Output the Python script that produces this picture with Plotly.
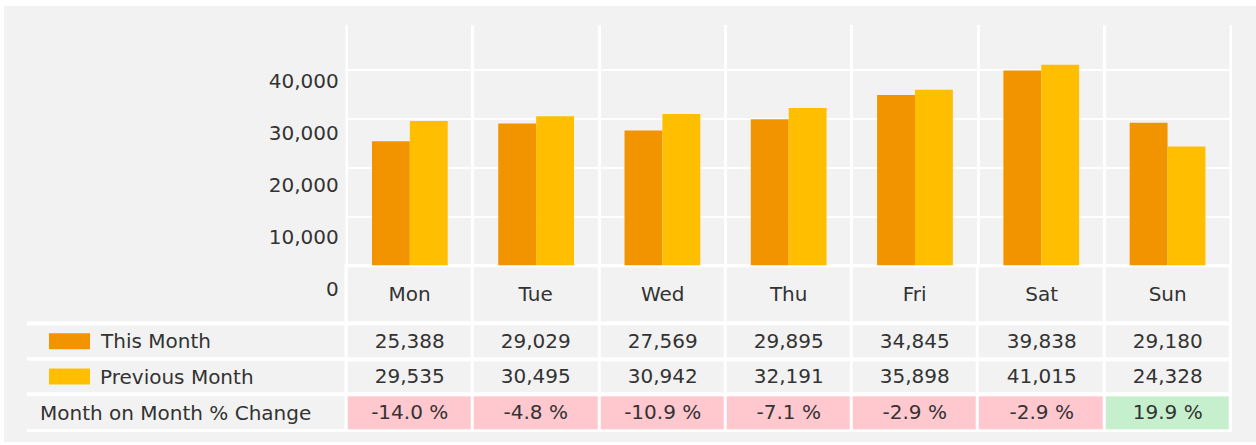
import plotly.graph_objects as go

# ---------------- data ----------------
days = ["Mon", "Tue", "Wed", "Thu", "Fri", "Sat", "Sun"]
this_month = [25388, 29029, 27569, 29895, 34845, 39838, 29180]
prev_month = [29535, 30495, 30942, 32191, 35898, 41015, 24328]
pct_change = [-14.0, -4.8, -10.9, -7.1, -2.9, -2.9, 19.9]
series_names = ["This Month", "Previous Month"]
pct_label = "Month on Month % Change"
y_ticks = [0, 10000, 20000, 30000, 40000]

# ---------------- style ----------------
W, H = 1256, 445
ORANGE = "#F29400"
AMBER = "#FFBF00"
PANEL = "#F2F2F2"
PINK = "#FFC7CE"
GREEN = "#C6EFCE"
TXT = "#333333"
FONT = "DejaVu Sans"
FS = 20


def px(x):
    return x / W


def py(y):
    return 1 - y / H


# plot geometry (pixels)
X0, X1 = 346.7, 1230.7
PLOT_TOP, PLOT_BOTTOM = 25.0, 266.7
PX_PER_10K_GRID = 49.15
YMAX = (PLOT_BOTTOM - PLOT_TOP) / PX_PER_10K_GRID * 10000
# tick label axis (labels sit lower than the grid in the reference)
LAB_TOP, LAB_BOTTOM = 25.0, 300.0
LAB_ZERO_PX, LAB_PX_PER_10K = 290.0, 52.25
lab_lo = -(LAB_BOTTOM - LAB_ZERO_PX) / LAB_PX_PER_10K * 10000
lab_hi = (LAB_ZERO_PX - LAB_TOP) / LAB_PX_PER_10K * 10000
# table rows (pixel edges)
ROW_EDGES = [266.5, 325.0, 360.5, 396.0, 433.0]

fig = go.Figure()

fig.add_trace(go.Bar(x=days, y=this_month, name=series_names[0],
                     marker=dict(color=ORANGE, line=dict(width=0)),
                     xaxis="x", yaxis="y", hoverinfo="skip"))
fig.add_trace(go.Bar(x=days, y=prev_month, name=series_names[1],
                     marker=dict(color=AMBER, line=dict(width=0)),
                     xaxis="x", yaxis="y", hoverinfo="skip"))

# table as a heatmap of cells
z = [[0] * len(days),
     [0] * len(days),
     [0] * len(days),
     [1 if p < 0 else 2 for p in pct_change]]
txt = [days,
       [f"{v:,}" for v in this_month],
       [f"{v:,}" for v in prev_month],
       [f"{p:.1f} %" for p in pct_change]]
fig.add_trace(go.Heatmap(
    x=days, y=ROW_EDGES, z=z, text=txt, texttemplate="%{text}",
    textfont=dict(family=FONT, size=FS, color=TXT),
    colorscale=[[0, PANEL], [0.5, PINK], [1, GREEN]], zmin=0, zmax=2,
    showscale=False, xgap=3, ygap=4, hoverinfo="skip",
    xaxis="x", yaxis="y2"))

# invisible trace carrying the value-label axis
fig.add_trace(go.Scatter(x=[None], y=[None], xaxis="x3", yaxis="y3",
                         showlegend=False, hoverinfo="skip"))

shapes = [
    dict(type="rect", xref="paper", yref="paper", x0=px(4), x1=1, y0=py(444), y1=py(6),
         fillcolor=PANEL, line=dict(width=0), layer="below"),
    dict(type="rect", xref="paper", yref="paper", x0=px(344.5), x1=px(1232),
         y0=py(434), y1=py(265.5), fillcolor="white", line=dict(width=0), layer="below"),
]
# outer vertical grid lines of the bar panel
for xd in (0, 1):
    shapes.append(dict(type="line", xref="x domain", yref="y domain", x0=xd, x1=xd,
                       y0=0, y1=1, line=dict(color="white", width=2.5), layer="below"))
# separators of the label column
for i, e in enumerate(ROW_EDGES[1:]):
    lo = e + (1 if i == len(ROW_EDGES) - 2 else 2)
    shapes.append(dict(type="rect", xref="paper", yref="paper", x0=px(27), x1=px(346),
                       y0=py(lo), y1=py(e - 2), fillcolor="white", line=dict(width=0),
                       layer="below"))
# legend swatches
for (c, e0, e1) in [(ORANGE, ROW_EDGES[1], ROW_EDGES[2]), (AMBER, ROW_EDGES[2], ROW_EDGES[3])]:
    cy = (e0 + e1) / 2
    shapes.append(dict(type="rect", xref="paper", yref="paper", x0=px(49), x1=px(90),
                       y0=py(cy + 8), y1=py(cy - 8), fillcolor=c, line=dict(width=0)))

annotations = []
for name, e0, e1, x in [(series_names[0], ROW_EDGES[1], ROW_EDGES[2], 98),
                        (series_names[1], ROW_EDGES[2], ROW_EDGES[3], 98),
                        (pct_label, ROW_EDGES[3], ROW_EDGES[4], 38)]:
    annotations.append(dict(text=name, xref="paper", yref="paper", x=px(x),
                            y=py((e0 + e1) / 2), xanchor="left", yanchor="middle",
                            showarrow=False, font=dict(family=FONT, size=FS, color=TXT)))

fig.update_layout(
    width=W, height=H, margin=dict(l=0, r=0, t=0, b=0, pad=0),
    paper_bgcolor="white", plot_bgcolor="rgba(0,0,0,0)",
    font=dict(family=FONT, size=FS, color=TXT),
    barmode="group", bargap=0.4, bargroupgap=0, showlegend=False,
    xaxis=dict(type="category", domain=[px(X0), px(X1)], anchor="y",
               categoryorder="array", categoryarray=days, range=[-0.5, len(days) - 0.5],
               tickson="boundaries", showgrid=True, gridcolor="white", gridwidth=2.5,
               showticklabels=False, ticks="", showline=False, zeroline=False),
    yaxis=dict(domain=[py(PLOT_BOTTOM), py(PLOT_TOP)], range=[0, YMAX], anchor="x",
               tickvals=y_ticks, showgrid=True, gridcolor="white", gridwidth=2,
               zeroline=True, zerolinecolor="white", zerolinewidth=2,
               showticklabels=False, ticks="", showline=False),
    yaxis2=dict(domain=[py(ROW_EDGES[-1]), py(ROW_EDGES[0])],
                range=[ROW_EDGES[-1], ROW_EDGES[0]], anchor="x",
                visible=False, showgrid=False, zeroline=False),
    xaxis3=dict(domain=[px(X0), px(X1)], anchor="y3", visible=False, range=[0, 1]),
    yaxis3=dict(domain=[py(LAB_BOTTOM), py(LAB_TOP)], range=[lab_lo, lab_hi],
                anchor="free", position=px(X0), side="left",
                tickvals=y_ticks, tickformat=",d", showgrid=False, zeroline=False,
                showline=False, ticks="", ticklabelstandoff=8,
                tickfont=dict(family=FONT, size=FS, color=TXT)),
    shapes=shapes, annotations=annotations,
)

fig.write_html("out.html")
